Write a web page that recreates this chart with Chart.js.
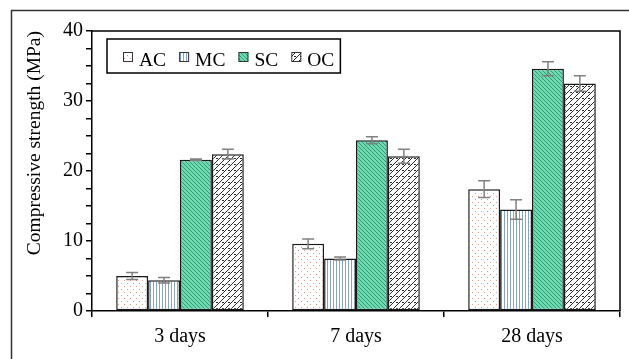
<!DOCTYPE html>
<html>
<head>
<meta charset="utf-8">
<script src="https://cdn.jsdelivr.net/npm/chart.js@4.4.0/dist/chart.umd.min.js"></script>
<style>
  body { margin: 0; background: #fff; }
  canvas { display: block; }
</style>
</head>
<body>
<canvas id="strengthChart" width="629" height="359"></canvas>
<script>
// data
var categories = ['3 days', '7 days', '28 days'];
var seriesNames = ['AC', 'MC', 'SC', 'OC'];
var acValues = [5.0, 9.6, 17.4];
var mcValues = [4.4, 7.5, 14.5];
var scValues = [21.6, 24.4, 34.6];
var ocValues = [22.4, 22.1, 32.5];
var acErrors = [0.5, 0.7, 1.2];
var mcErrors = [0.4, 0.2, 1.4];
var scErrors = [0.1, 0.5, 1.0];
var ocErrors = [0.7, 1.0, 1.1];
var yTickLabels = [0, 10, 20, 30, 40];

var serifFont = '"Liberation Serif", "Times New Roman", serif';

/**
 * Build a repeating fill from a small tile.
 */
function makePattern(size, paint){
    let tile = document.createElement('canvas');
    tile.width = size;
    tile.height = size;
    let tctx = tile.getContext('2d');
    paint(tctx, size);
    return document.createElement('canvas').getContext('2d').createPattern(tile, 'repeat');
}

var acPattern = makePattern(6, function(c, s){
    c.fillStyle = '#fff'; c.fillRect(0, 0, s, s);
    c.fillStyle = '#e09a88';
    c.fillRect(1, 1, 1, 1);
    c.fillRect(4, 4, 1, 1);
});
var mcPattern = makePattern(3, function(c, s){
    c.fillStyle = '#fff'; c.fillRect(0, 0, s, s);
    c.fillStyle = '#86a3c4';
    c.fillRect(0, 0, 1, s);
});
var scPattern = makePattern(4, function(c, s){
    c.fillStyle = '#6fd9b0'; c.fillRect(0, 0, s, s);
    c.fillStyle = '#2f9c76';
    for (let i = 0; i < s; i++){
        c.fillRect(i, i, 1, 1);
    }
});
var ocPattern = makePattern(6, function(c, s){
    c.fillStyle = '#fff'; c.fillRect(0, 0, s, s);
    c.fillStyle = '#2a2a2a';
    for (let i = 0; i < s; i++){
        c.fillRect(i, s - 1 - i, 1, 1);
    }
    c.fillRect(0, 2, 2, 1);
});

var fills = [acPattern, mcPattern, scPattern, ocPattern];
var valueLists = [acValues, mcValues, scValues, ocValues];
var errorLists = [acErrors, mcErrors, scErrors, ocErrors];

/**
 * White page and the outer frame (top and left edges only).
 */
var framePlugin = {
    id: 'frame',
    beforeDraw: function(chart){
        let ctx = chart.ctx;
        ctx.save();
        ctx.fillStyle = '#fff';
        ctx.fillRect(0, 0, chart.width, chart.height);
        ctx.strokeStyle = '#333';
        ctx.lineWidth = 1.5;
        ctx.beginPath();
        ctx.moveTo(chart.width, 10.5);
        ctx.lineTo(11.5, 10.5);
        ctx.lineTo(11.5, chart.height);
        ctx.stroke();
        ctx.restore();
    },
    afterDraw: function(chart){
        let a = chart.chartArea;
        let ctx = chart.ctx;
        ctx.save();
        ctx.strokeStyle = '#000';
        ctx.lineWidth = 1.5;
        ctx.beginPath();
        ctx.moveTo(a.left, a.top);
        ctx.lineTo(a.right, a.top);
        ctx.lineTo(a.right, a.bottom);
        ctx.stroke();
        ctx.restore();
    }
};

/**
 * Error bars drawn through the y scale.
 */
var errorBarPlugin = {
    id: 'errorBars',
    afterDatasetsDraw: function(chart){
        let ctx = chart.ctx;
        let yScale = chart.scales.y;
        ctx.save();
        ctx.strokeStyle = '#808080';
        ctx.lineWidth = 1.5;
        chart.data.datasets.forEach(function(ds, di){
            let meta = chart.getDatasetMeta(di);
            meta.data.forEach(function(bar, i){
                let v = ds.data[i];
                let e = errorLists[di][i];
                let yTop = yScale.getPixelForValue(v + e);
                let yBot = yScale.getPixelForValue(v - e);
                ctx.beginPath();
                ctx.moveTo(bar.x, yTop);
                ctx.lineTo(bar.x, yBot);
                ctx.moveTo(bar.x - 6, yTop);
                ctx.lineTo(bar.x + 6, yTop);
                ctx.moveTo(bar.x - 6, yBot);
                ctx.lineTo(bar.x + 6, yBot);
                ctx.stroke();
            });
        });
        ctx.restore();
    }
};

/**
 * Boxed legend inside the plot, top left.
 */
var legendPlugin = {
    id: 'boxLegend',
    afterDraw: function(chart){
        let a = chart.chartArea;
        let ctx = chart.ctx;
        let boxX = a.left + 15;
        let boxY = a.top + 8;
        ctx.save();
        ctx.font = '19.5px ' + serifFont;
        ctx.textBaseline = 'alphabetic';
        let x = boxX + 16;
        chart.data.datasets.forEach(function(ds){
            ctx.fillStyle = ds.backgroundColor;
            ctx.fillRect(x, boxY + 13, 10, 10);
            ctx.strokeStyle = '#333';
            ctx.lineWidth = 1;
            ctx.strokeRect(x + 0.5, boxY + 13.5, 9, 9);
            ctx.fillStyle = '#000';
            ctx.fillText(ds.label, x + 16, boxY + 27);
            x += 16 + ctx.measureText(ds.label).width + 13;
        });
        ctx.strokeStyle = '#000';
        ctx.lineWidth = 1.5;
        ctx.strokeRect(boxX, boxY, x - boxX - 7, 34);
        ctx.restore();
    }
};

var datasets = [];
for (let i = 0; i < seriesNames.length; i++){
    datasets.push({
        label: seriesNames[i],
        data: valueLists[i],
        backgroundColor: fills[i],
        borderColor: '#1a1a1a',
        borderWidth: 1.5,
        borderSkipped: false,
        barPercentage: 1.0,
        categoryPercentage: 0.725
    });
}

new Chart(document.getElementById('strengthChart'), {
    type: 'bar',
    data: { labels: categories, datasets: datasets },
    plugins: [framePlugin, errorBarPlugin, legendPlugin],
    options: {
        responsive: false,
        animation: false,
        layout: { padding: { top: 31, right: 9, left: 0, bottom: 0 } },
        plugins: {
            legend: { display: false },
            tooltip: { enabled: false }
        },
        scales: {
            x: {
                offset: true,
                grid: { offset: true, drawOnChartArea: false, tickLength: 6, color: '#000', lineWidth: 1.5 },
                border: { color: '#000', width: 1.5 },
                ticks: { color: '#000', padding: 8, font: { family: serifFont, size: 20 } },
                afterFit: function(scale){ scale.height = 48; }
            },
            y: {
                min: 0,
                max: 40,
                grid: { drawOnChartArea: false, tickLength: 6, color: '#000', lineWidth: 1.5 },
                border: { color: '#000', width: 1.5 },
                ticks: {
                    stepSize: 2.5,
                    autoSkip: false,
                    padding: 3,
                    color: '#000',
                    font: { family: serifFont, size: 20 },
                    callback: function(v){ return yTickLabels.indexOf(v) >= 0 ? v : ''; }
                },
                title: {
                    display: true,
                    text: 'Compressive strength (MPa)',
                    align: 'end',
                    color: '#000',
                    padding: { top: 23, bottom: 0 },
                    font: { family: serifFont, size: 19.5 }
                },
                afterFit: function(scale){ scale.width = 92; }
            }
        }
    }
});
</script>
</body>
</html>
